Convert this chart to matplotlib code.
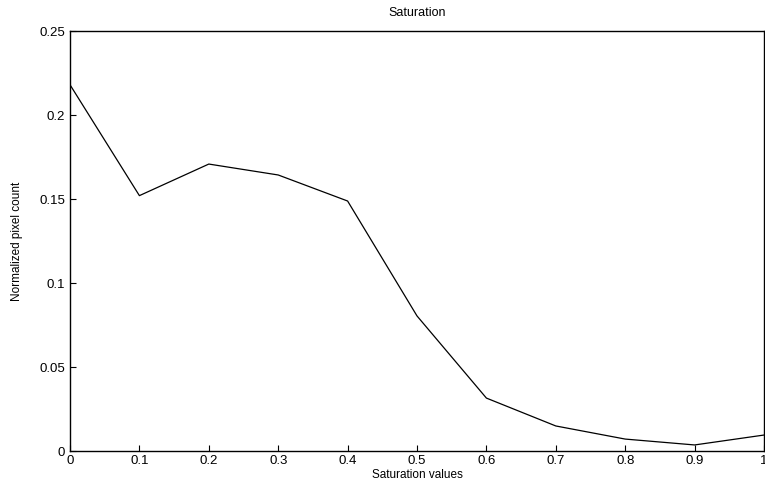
import matplotlib
matplotlib.use("Agg")
import matplotlib.pyplot as plt
import numpy as np

# saturation histogram
sat_values = [0.0, 0.1, 0.2, 0.3, 0.4, 0.5, 0.6, 0.7, 0.8, 0.9, 1.0]
pixel_count = [0.218, 0.152, 0.1708, 0.1643, 0.1488, 0.0804, 0.0315, 0.0149, 0.0071, 0.0036, 0.0095]
xticks = [0, 0.1, 0.2, 0.3, 0.4, 0.5, 0.6, 0.7, 0.8, 0.9, 1]
xtick_labels = ["0", "0.1", "0.2", "0.3", "0.4", "0.5", "0.6", "0.7", "0.8", "0.9", "1"]
yticks = [0, 0.05, 0.1, 0.15, 0.2, 0.25]
ytick_labels = ["0", "0.05", "0.1", "0.15", "0.2", "0.25"]

plt.rcParams['font.family'] = ['Liberation Sans', 'DejaVu Sans']

fig = plt.figure(figsize=(7.65, 4.87), dpi=100)
ax = fig.add_axes([70/765, 1 - 451/487, 694/765, 420/487])

ax.plot(sat_values, pixel_count, color='black', linewidth=0.9)
ax.set_xlim(0, 1)
ax.set_ylim(0, 0.25)
ax.set_xticks(xticks)
ax.set_xticklabels(xtick_labels)
ax.set_yticks(yticks)
ax.set_yticklabels(ytick_labels)
ax.tick_params(direction='in', length=4, width=0.8, labelsize=9.5, top=False, right=False)
ax.tick_params(axis='x', pad=3)
for s in ax.spines.values():
    s.set_linewidth(1.0)

ax.set_title("Saturation", fontsize=9, pad=11)
ax.set_xlabel("Saturation values", fontsize=8.5, labelpad=1)
ax.set_ylabel("Normalized pixel count", fontsize=8.5, labelpad=12)

fig.savefig("out.png", dpi=100)
